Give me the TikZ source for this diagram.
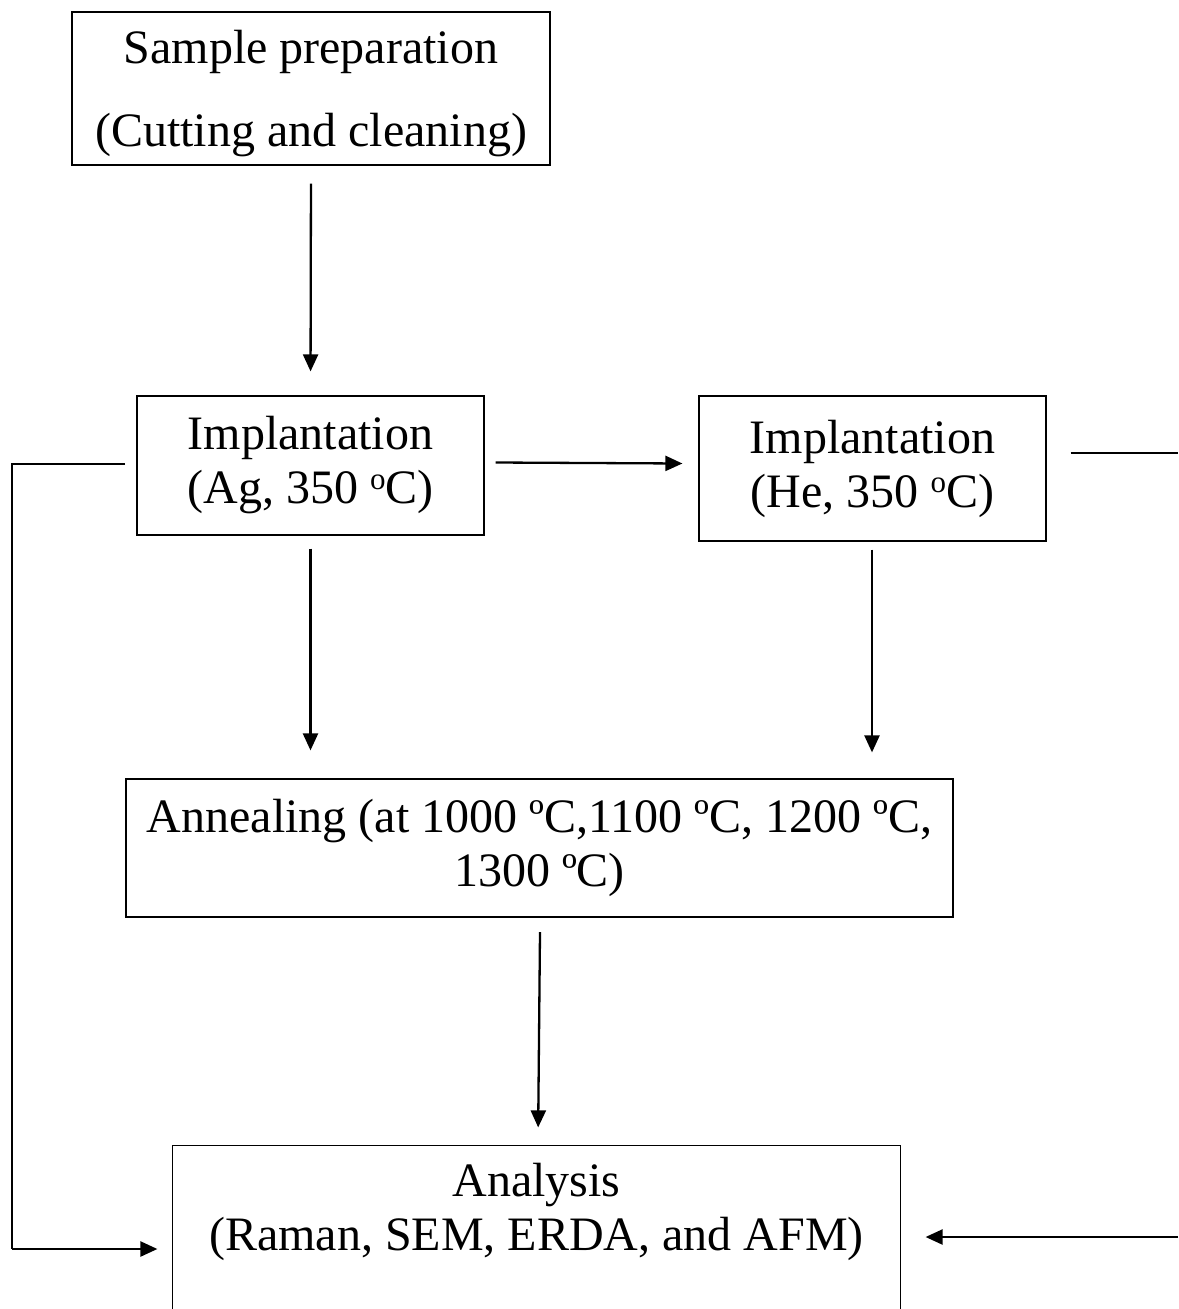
\documentclass[tikz,border=0pt]{standalone}
\usepackage{fontspec}
\setmainfont{Liberation Serif}
\usetikzlibrary{arrows.meta,calc}

% raised small "o" used as the degree mark
\newcommand{\degmark}{\raisebox{0.3em}{\fontsize{31}{31}\selectfont o}}

\tikzset{
  stagebox/.style={draw, line width=1.2pt, align=center, inner sep=0pt,
    font=\fontsize{48}{54}\selectfont},
  flow/.style={line width=2.3pt, -{Triangle[length=17pt,width=15pt]}},
  wire/.style={line width=1.6pt},
}

\begin{document}
\begin{tikzpicture}[x=1pt,y=-1pt]
\useasboundingbox (0,0) rectangle (1178,1309);

% process stages
\node[stagebox, minimum width=478pt, minimum height=153pt, text depth=0pt,
      font=\fontsize{48}{83}\selectfont] (prep) at (311,88.5)
  {\raisebox{-6pt}{}Sample preparation\\(Cutting and cleaning)};
\node[stagebox, minimum width=347pt, minimum height=139pt] (ag) at (310.5,465.5)
  {Implantation\\(Ag, 350 \degmark C)};
\node[stagebox, minimum width=347pt, minimum height=145pt] (he) at (872.5,468.5)
  {Implantation\\(He, 350 \degmark C)};
\node[stagebox, minimum width=827pt, minimum height=138pt] (ann) at (539.5,848)
  {Annealing (at 1000 ºC,1100 ºC, 1200 ºC,\\1300 ºC)};
\node[stagebox, draw=none, minimum width=727pt, minimum height=132pt] (ana) at (536.5,1212)
  {Analysis\\(Raman, SEM, ERDA, and AFM)};
% analysis frame runs off the lower edge
\draw[line width=1.2pt] (ana.north west |- 0,1320) -- (ana.north west)
  -- (ana.north east) -- (ana.north east |- 0,1320);

% free ends of the side connectors
\coordinate (lstart) at (125,464);
\coordinate (lcorner1) at (12,464);
\coordinate (lcorner2) at (12,1249);
\coordinate (rstart) at (1178,453);
\coordinate (rin) at (1178,1237);
\coordinate (annout) at (540,932);

% main flow
\draw[flow, shorten <=18pt, shorten >=24pt] (prep.south) -- (ag.north);
\draw[flow, shorten <=13pt, shorten >=28pt] (ag.south) -- (ag.south |- ann.north);
\draw[flow, shorten <=8pt, shorten >=26pt] (he.south -| 872,0) -- (872,0 |- ann.north);
\draw[flow] ($(ag.east)+(11,-3)$) -- ($(he.west)+(-16,-5)$);
\draw[flow, shorten >=18pt] (annout) -- (538,0 |- ana.north);

% side routes into the analysis stage
\draw[wire] (lstart) -- (lcorner1) -- (lcorner2);
\draw[flow] (lcorner2) -- ($(ana.west |- lcorner2)+(-15,0)$);
\draw[wire] ($(he.east |- rstart)+(24,0)$) -- (rstart);
\draw[flow] (rin) -- ($(ana.east |- rin)+(25,0)$);
\end{tikzpicture}
\end{document}
